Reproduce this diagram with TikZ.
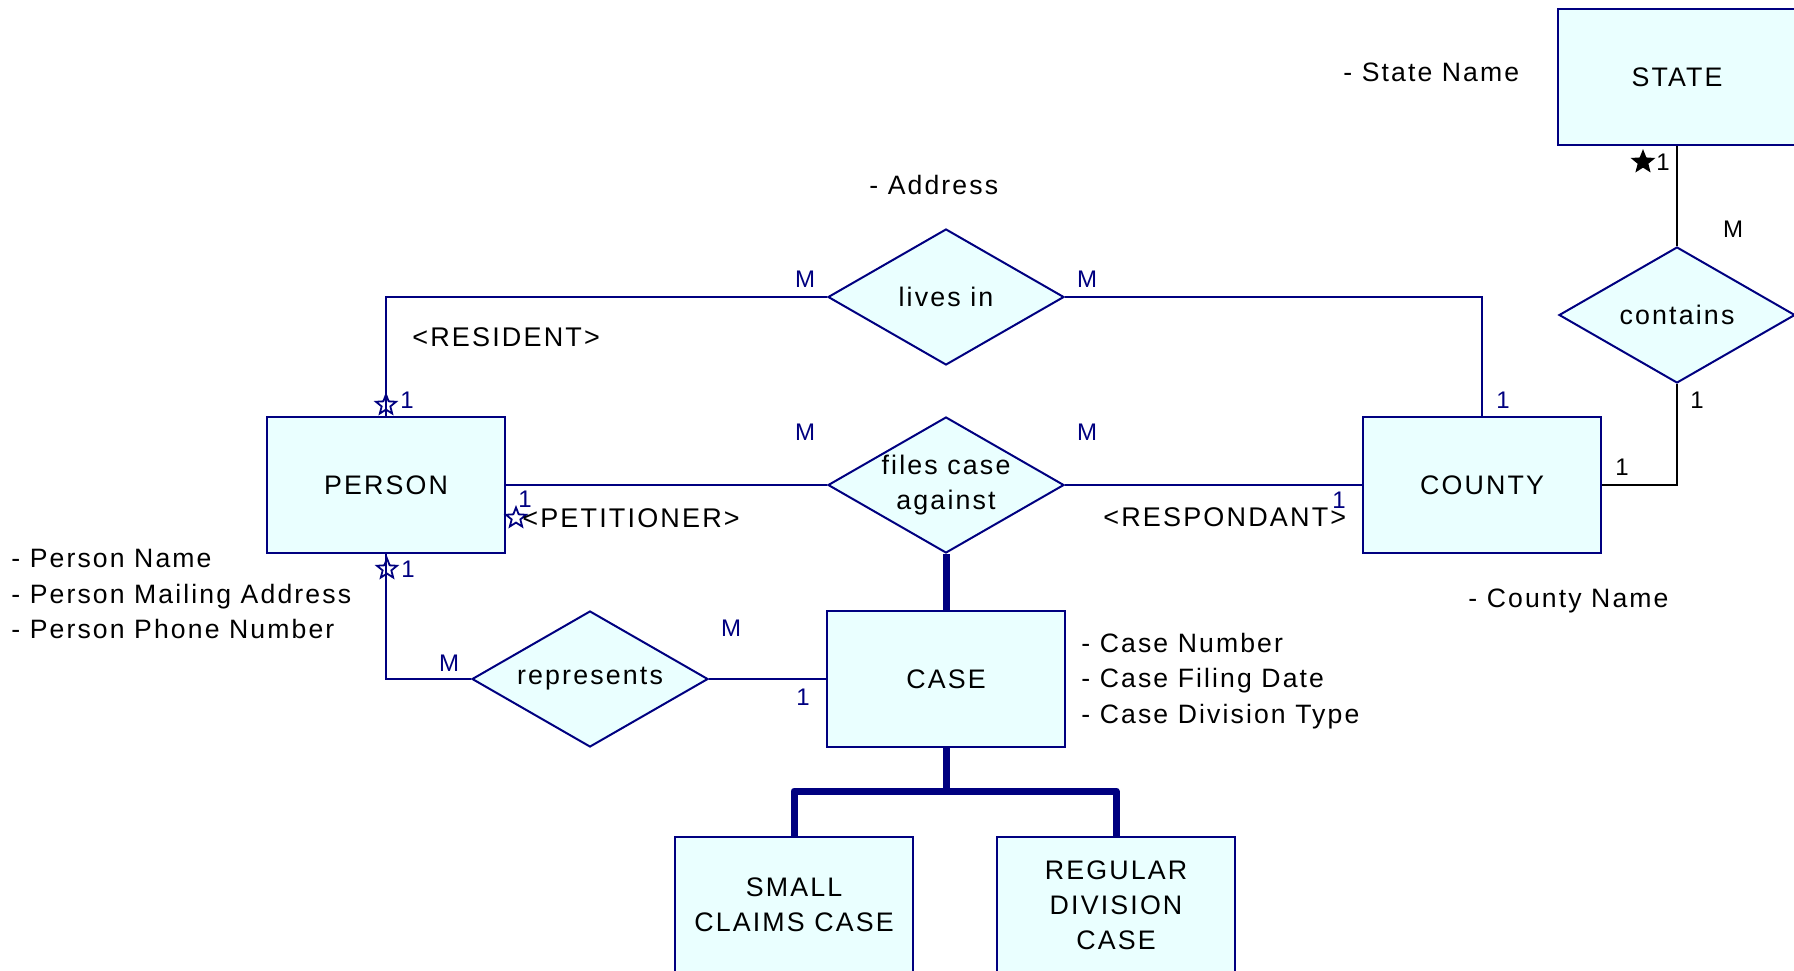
\documentclass[tikz,border=0pt]{standalone}
\usepackage{fontspec}
\setmainfont{Liberation Sans}[LetterSpace=8]
\usetikzlibrary{shapes.geometric,positioning}
\definecolor{ernavy}{RGB}{0,0,128}
\definecolor{erfill}{RGB}{234,255,255}

\begin{document}
\begin{tikzpicture}[x=0.5pt,y=-0.5pt,
  entbox/.style={draw=ernavy,fill=erfill,line width=1pt,minimum width=119pt,minimum height=68pt,
    inner sep=0pt,align=center,font=\fontsize{13.4}{17.5}\selectfont},
  relbox/.style={diamond,draw=ernavy,fill=erfill,line width=1pt,minimum width=118pt,minimum height=68pt,
    aspect=1.74,inner sep=0pt,align=center,font=\fontsize{13.4}{17.5}\selectfont},
  attrtxt/.style={anchor=west,inner sep=0pt,align=left,font=\fontsize{13.3}{17.9}\selectfont},
  roletxt/.style={attrtxt,font=\fontsize{13.5}{16}\selectfont},
  cardlbl/.style={ernavy,inner sep=0pt,font=\fontsize{12}{13}\selectfont},
  erlink/.style={ernavy,line width=1pt},
  isalink/.style={ernavy,line width=3.5pt,line join=round},
  starmk/.style={star,star points=5,star point ratio=2.3,draw=ernavy,line width=0.9pt,
    minimum size=10.5pt,inner sep=0pt}]
\useasboundingbox (0,0) rectangle (1794,970);
% ---------- entities ----------
\node[entbox] (state) at (1677,77) {STATE};
\node[entbox] (county) at (1482,485) {COUNTY};
\node[entbox] (person) at (386,485) {PERSON};
\node[entbox] (case) at (946,679) {CASE};
\node[entbox] (small) at (794,905) {SMALL\\CLAIMS CASE};
\node[entbox] (regular) at (1116,905) {REGULAR\\DIVISION\\CASE};
% ---------- relationships ----------
\node[relbox] (livesin) at (946,297) {lives in};
\node[relbox] (files) at (946,485) {files case\\against};
\node[relbox] (represents) at (590,679) {represents};
\node[relbox] (contains) at (1677,315) {contains};
% ---------- connectors ----------
\draw[erlink] (person.north) |- (livesin.west);
\draw[erlink] (livesin.east) -| (county.north);
\draw[erlink] (person.east) -- (files.west);
\draw[erlink] (files.east) -- (county.west);
\draw[erlink] (person.south) |- (represents.west);
\draw[erlink] (represents.east) -- (case.west);
\draw[black,line width=1pt] (state.south) -- (contains.north);
\draw[black,line width=1pt] (contains.south) |- (county.east);
\draw[isalink] (files.south) -- (case.north);
% subtypes of CASE
\coordinate (split) at (946,791);
\draw[isalink] (case.south) -- (split);
\draw[isalink] (small.north) |- (split) -| (regular.north);
% ---------- optional-side stars ----------
\node[starmk] (strres) at (386,405) {};
\node[starmk] (strpet) at (516,518) {};
\node[starmk] (strrep) at (387,569) {};
\node[starmk,draw=black,fill=black] (strstate) at (1643,162) {};
% ---------- cardinalities ----------
\foreach \x/\y/\t [count=\i] in {407/400/1, 805/279/M, 1087/279/M, 805/432/M, 1087/432/M,
    525/499/1, 1339/500/1, 1503/400/1, 408/569/1, 449/663/M, 731/628/M, 803/697/1}
  \node[cardlbl] (card\i) at (\x,\y) {\t};
\foreach \x/\y/\t [count=\i] in {1663/162/1, 1733/229/M, 1697/400/1, 1622/467/1}
  \node[cardlbl,black] (cardk\i) at (\x,\y) {\t};
% ---------- roles ----------
\node[roletxt] (resident) at (412,337) {<RESIDENT>};
\node[roletxt] (petitioner) at (522,518) {<PETITIONER>};
\node[roletxt] (respondant) at (1103,517) {<RESPONDANT>};
% ---------- attributes ----------
\node[attrtxt] (statename) at (1343,72) {- State Name};
\node[attrtxt] (address) at (869,185) {- Address};
\node[attrtxt] (countyname) at (1468,601) {- County Name};
\node[attrtxt] (personattr) at (11,594) {- Person Name\\- Person Mailing Address\\- Person Phone Number};
\node[attrtxt] (caseattr) at (1081,681) {- Case Number\\- Case Filing Date\\- Case Division Type};
\end{tikzpicture}
\end{document}
